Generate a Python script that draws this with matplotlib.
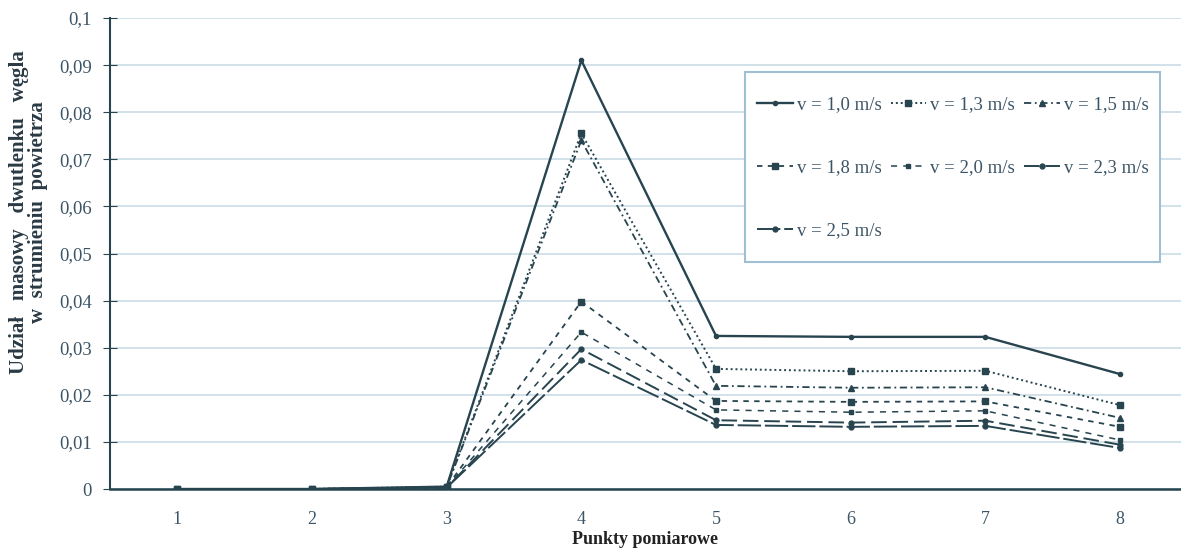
import matplotlib
matplotlib.use("Agg")
import matplotlib.pyplot as plt
from matplotlib.patches import Rectangle
from matplotlib.ticker import FuncFormatter, MultipleLocator

points = [1, 2, 3, 4, 5, 6, 7, 8]
labels = ["v = 1,0 m/s", "v = 1,3 m/s", "v = 1,5 m/s", "v = 1,8 m/s",
          "v = 2,0 m/s", "v = 2,3 m/s", "v = 2,5 m/s"]

v10 = [0.0, 0.0, 0.0005, 0.0910, 0.0325, 0.0323, 0.0323, 0.0244]
v13 = [0.0, 0.0, 0.0005, 0.0755, 0.0255, 0.0250, 0.0251, 0.0178]
v15 = [0.0, 0.0, 0.0004, 0.0740, 0.0219, 0.0215, 0.0216, 0.0151]
v18 = [0.0, 0.0, 0.0004, 0.0398, 0.0187, 0.0185, 0.0186, 0.0132]
v20 = [0.0, 0.0, 0.0003, 0.0333, 0.0168, 0.0163, 0.0166, 0.0104]
v23 = [0.0, 0.0, 0.0003, 0.0297, 0.0146, 0.0141, 0.0145, 0.0094]
v25 = [0.0, 0.0, 0.0003, 0.0274, 0.0136, 0.0132, 0.0134, 0.0087]

series = [v10, v13, v15, v18, v20, v23, v25]
styles = [
    dict(linestyle="-", marker=".", markersize=6, linewidth=1.7),
    dict(linestyle=(0, (1, 1.5)), marker="s", markersize=4, linewidth=1.4),
    dict(linestyle=(0, (4, 2, 1, 2)), marker="^", markersize=4, linewidth=1.3),
    dict(linestyle=(0, (3, 3)), marker="s", markersize=4, linewidth=1.3),
    dict(linestyle=(0, (4, 4)), marker="s", markersize=3, linewidth=1.1),
    dict(linestyle=(0, (8, 3)), marker="o", markersize=3.5, linewidth=1.4),
    dict(linestyle=(0, (12, 2)), marker="o", markersize=3.5, linewidth=1.4),
]
line_color = "#27444f"
text_color = "#3c5566"

plt.rcParams["font.family"] = ["Liberation Serif", "DejaVu Serif"]

fig = plt.figure(figsize=(11.81, 5.5), dpi=100)
ax = fig.add_axes([110 / 1181, 61 / 550, 1071 / 1181, 471 / 550])

handles = []
for vals, lab, st in zip(series, labels, styles):
    h, = ax.plot(points, vals, color=line_color, label=lab, **st)
    handles.append(h)

ax.set_xlim(0.5, 8.453)
ax.set_ylim(0, 0.1)
ax.yaxis.set_major_locator(MultipleLocator(0.01))
ax.yaxis.set_major_formatter(FuncFormatter(
    lambda y, _: "0" if abs(y) < 1e-9 else ("%g" % round(y, 3)).replace(".", ",")))
ax.set_xticks(points)
ax.tick_params(axis="x", length=0, labelsize=13, labelcolor=text_color, pad=16)
ax.tick_params(axis="y", direction="inout", length=10, labelsize=13.5,
               labelcolor=text_color, color=line_color, pad=8)

ax.grid(axis="y", color="#c9dbe6", linewidth=1.2)
ax.set_axisbelow(True)
for side in ["top", "right"]:
    ax.spines[side].set_visible(False)
ax.spines["left"].set_color(line_color)
ax.spines["bottom"].set_color(line_color)
ax.spines["left"].set_linewidth(1.5)
ax.spines["bottom"].set_linewidth(1.8)

ax.set_xlabel("Punkty pomiarowe", fontsize=13, fontweight="bold", color="#222222", labelpad=2)
fig.text(0.024, 0.615, "Udział   masowy   dwutlenku   węgla\nw  strumieniu  powietrza",
         rotation=90, ha="center", va="center", multialignment="center",
         fontsize=15, fontweight="bold", color="#2a3a44", linespacing=0.9)

# legend frame drawn separately so the padding can differ per side
ax.add_patch(Rectangle((0.593, 0.482), 0.3875, 0.403, transform=ax.transAxes,
                       facecolor="white", edgecolor="#9fc0d4", linewidth=1.5, zorder=4))
order = [0, 3, 6, 1, 4, 2, 5]
leg = ax.legend([handles[i] for i in order], [labels[i] for i in order],
                ncol=3, loc="upper left", bbox_to_anchor=(0.592, 0.862),
                fontsize=13.5, frameon=False, borderpad=0.2,
                handlelength=1.9, handletextpad=0.2, columnspacing=0.5,
                labelspacing=2.45)
leg.set_zorder(5)
for t in leg.get_texts():
    t.set_color(text_color)

fig.savefig("out.png", dpi=100)
